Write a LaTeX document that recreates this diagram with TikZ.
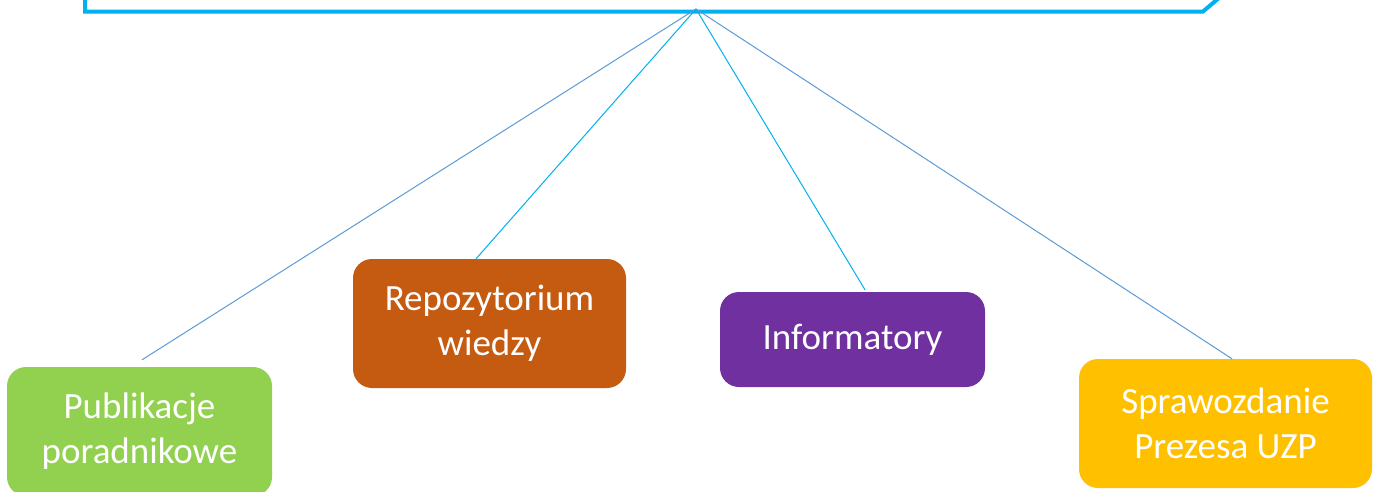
\documentclass[tikz,border=0pt]{standalone}
\usepackage{fontspec}
\setmainfont{Carlito}
\definecolor{frameblue}{HTML}{00B0F0}
\definecolor{linkblue}{HTML}{5B9BD5}
\definecolor{pubgreen}{HTML}{92D050}
\definecolor{repobrown}{HTML}{C55A11}
\definecolor{infopurple}{HTML}{7030A0}
\definecolor{reportgold}{HTML}{FFC000}
\begin{document}
\begin{tikzpicture}[x=1pt, y=-1pt,
    card/.style={rounded corners=19pt, text=white, align=center,
        font=\fontsize{37}{45}\selectfont, inner sep=0pt},
    link/.style={line width=1pt}]
    \useasboundingbox (0,0) rectangle (1376,491);
    \clip (0,0) rectangle (1376,491);
    % Draw the top frame
    \draw[line width=4pt, frameblue] (85,-20) -- (85,11.5) -- (1203,11.5) -- (1226,-8);
    \coordinate (hub) at (696,9);
    
    % Draw the cards
    \node[card, fill=pubgreen, minimum width=265pt, minimum height=129pt] (pub) at (139.5,431.5) {Publikacje\\poradnikowe};
    \node[card, fill=repobrown, minimum width=273pt, minimum height=129pt] (repo) at (489.5,323.5) {Repozytorium\\wiedzy};
    \node[card, fill=infopurple, minimum width=265pt, minimum height=95pt] (info) at (852.5,339.5) {Informatory};
    \node[card, fill=reportgold, minimum width=293pt, minimum height=129pt] (report) at (1225.5,423.5) {Sprawozdanie\\Prezesa UZP};
    
    % Draw the links
    \draw[link, linkblue] (hub) -- ([shift={(2.5,-7)}]pub.north);
    \draw[link, frameblue] (hub) -- ([xshift=-13.5pt]repo.north);
    \draw[link, frameblue] (hub) -- ([shift={(12.5,-2)}]info.north);
    \draw[link, linkblue] (hub) -- ([xshift=6.5pt]report.north);
\end{tikzpicture}
\end{document}
